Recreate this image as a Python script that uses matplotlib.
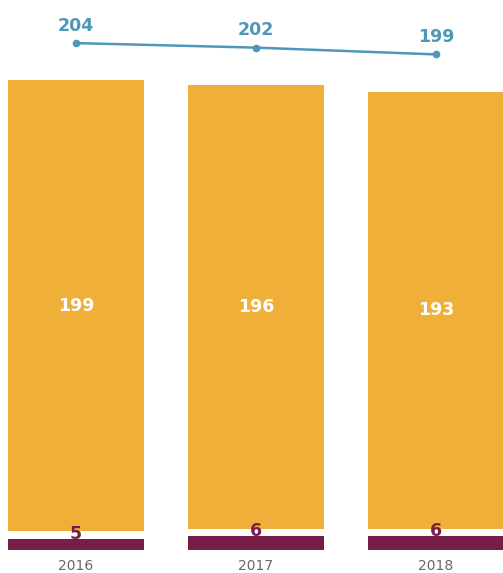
import matplotlib
matplotlib.use("Agg")
import matplotlib.pyplot as plt
import numpy as np

years = ["2016", "2017", "2018"]
bottom_vals = [5, 6, 6]
top_vals = [199, 196, 193]
totals = [204, 202, 199]

orange = "#EFAF38"
maroon = "#761E47"
blue = "#4F97B9"
grey = "#666666"

W, H = 503, 573
fig = plt.figure(figsize=(W / 100, H / 100), dpi=100)

base_px = 550
scale = 2.265  # pixels per unit
ax = fig.add_axes([0, (H - base_px) / H, 1, base_px / H])
ax.set_xlim(-76 / 180, (W - 76) / 180)
ax.set_ylim(0, base_px / scale)
ax.axis("off")

x = np.arange(len(years))
gap = 3.3
width = 136 / 180

ax.bar(x, bottom_vals, width=width, color=maroon, linewidth=0)
ax.bar(x, top_vals, width=width, bottom=np.array(bottom_vals) + gap,
       color=orange, linewidth=0)

for xi, b, t in zip(x, bottom_vals, top_vals):
    ax.text(xi, b, str(b), ha="center", va="baseline", color=maroon,
            fontsize=12.5, fontweight="bold")
    ax.text(xi, b + gap + t / 2, str(t), ha="center", va="center",
            color="white", fontsize=12.5, fontweight="bold")

# Totals line sits above the bars on a shifted copy of the same scale
shift = 19.8
ax2 = ax.twinx()
ax2.set_ylim(-shift, base_px / scale - shift)
ax2.axis("off")
ax2.plot(x, totals, color=blue, linewidth=1.8, marker="o", markersize=4.5)
for xi, v in zip(x, totals):
    ax2.annotate(str(v), (xi, v), xytext=(0, 12.5), textcoords="offset points",
                 ha="center", va="center", color=blue, fontsize=12.5,
                 fontweight="bold")

for xi, yr in zip(x, years):
    ax.text(xi, -16 / scale, yr, ha="center", va="center", color=grey,
            fontsize=10, clip_on=False)

fig.savefig("out.png", dpi=100)
